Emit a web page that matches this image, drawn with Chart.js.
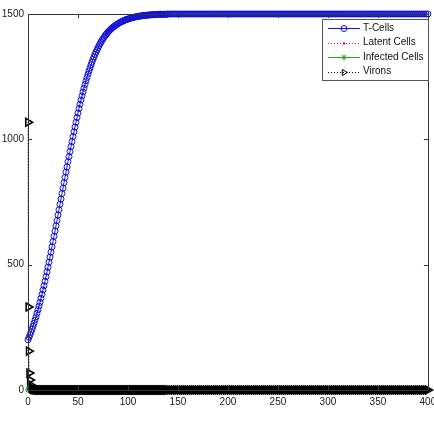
<!DOCTYPE html>
<html><head><meta charset="utf-8">
<script src="https://cdn.jsdelivr.net/npm/chart.js@4/dist/chart.umd.min.js"></script>
<style>html,body{margin:0;padding:0;background:#fff}#wrap{width:434px;height:424px}</style>
</head><body><div id="wrap"><canvas id="c" width="434" height="424"></canvas></div>
<script>
const times = [
0,1,2,3,4,5,6,7,8,9,10,11,12,13,14,15,16,17,18,19,
20,21,22,23,24,25,26,27,28,29,30,31,32,33,34,35,36,37,38,39,
40,41,42,43,44,45,46,47,48,49,50,51,52,53,54,55,56,57,58,59,
60,61,62,63,64,65,66,67,68,69,70,71,72,73,74,75,76,77,78,79,
80,81,82,83,84,85,86,87,88,89,90,91,92,93,94,95,96,97,98,99,
100,101,102,103,104,105,106,107,108,109,110,111,112,113,114,115,116,117,118,119,
120,121,122,123,124,125,126,127,128,129,130,131,132,133,134,135,136,137,138,139,
140,
142,144,146,148,150,152,154,156,158,160,162,164,166,168,170,172,174,176,178,180,
182,184,186,188,190,192,194,196,198,200,202,204,206,208,210,212,214,216,218,220,
222,224,226,228,230,232,234,236,238,240,242,244,246,248,250,252,254,256,258,260,
262,264,266,268,270,272,274,276,278,280,282,284,286,288,290,292,294,296,298,300,
302,304,306,308,310,312,314,316,318,320,322,324,326,328,330,332,334,336,338,340,
342,344,346,348,350,352,354,356,358,360,362,364,366,368,370,372,374,376,378,380,
382,384,386,388,390,392,394,396,398,400];
const tCells = [
200,210,220,231,242,254,266,279,292,306,320,335,350,366,382,399,416,434,452,471,
490,510,530,550,571,592,613,634,655,676,698,719,741,762,784,805,827,848,869,890,
911,931,951,971,991,1011,1030,1049,1068,1087,1105,1123,1140,1157,1173,1189,1204,1219,1233,1247,
1260,1273,1285,1297,1308,1319,1329,1339,1348,1357,1365,1373,1381,1388,1395,1401,1407,1413,1418,1423,
1428,1432,1436,1440,1444,1447,1450,1453,1456,1459,1461,1464,1466,1468,1470,1472,1474,1476,1477,1479,
1480,1481,1483,1484,1485,1486,1487,1488,1489,1490,1490,1491,1492,1492,1493,1493,1494,1494,1495,1495,
1496,1496,1496,1497,1497,1497,1498,1498,1498,1498,1499,1499,1499,1499,1499,1499,1499,1499,1499,1499,
1500,
1500,1500,1500,1500,1500,1500,1500,1500,1500,1500,1500,1500,1500,1500,1500,1500,1500,1500,1500,1500,
1500,1500,1500,1500,1500,1500,1500,1500,1500,1500,1500,1500,1500,1500,1500,1500,1500,1500,1500,1500,
1500,1500,1500,1500,1500,1500,1500,1500,1500,1500,1500,1500,1500,1500,1500,1500,1500,1500,1500,1500,
1500,1500,1500,1500,1500,1500,1500,1500,1500,1500,1500,1500,1500,1500,1500,1500,1500,1500,1500,1500,
1500,1500,1500,1500,1500,1500,1500,1500,1500,1500,1500,1500,1500,1500,1500,1500,1500,1500,1500,1500,
1500,1500,1500,1500,1500,1500,1500,1500,1500,1500,1500,1500,1500,1500,1500,1500,1500,1500,1500,1500,
1500,1500,1500,1500,1500,1500,1500,1500,1500,1500];
const latentCells = [
0,1,2,3,3,2,2,1,1,1,0,0,0,0,0,0,0,0,0,0,
0,0,0,0,0,0,0,0,0,0,0,0,0,0,0,0,0,0,0,0,
0,0,0,0,0,0,0,0,0,0,0,0,0,0,0,0,0,0,0,0,
0,0,0,0,0,0,0,0,0,0,0,0,0,0,0,0,0,0,0,0,
0,0,0,0,0,0,0,0,0,0,0,0,0,0,0,0,0,0,0,0,
0,0,0,0,0,0,0,0,0,0,0,0,0,0,0,0,0,0,0,0,
0,0,0,0,0,0,0,0,0,0,0,0,0,0,0,0,0,0,0,0,
0,
0,0,0,0,0,0,0,0,0,0,0,0,0,0,0,0,0,0,0,0,
0,0,0,0,0,0,0,0,0,0,0,0,0,0,0,0,0,0,0,0,
0,0,0,0,0,0,0,0,0,0,0,0,0,0,0,0,0,0,0,0,
0,0,0,0,0,0,0,0,0,0,0,0,0,0,0,0,0,0,0,0,
0,0,0,0,0,0,0,0,0,0,0,0,0,0,0,0,0,0,0,0,
0,0,0,0,0,0,0,0,0,0,0,0,0,0,0,0,0,0,0,0,
0,0,0,0,0,0,0,0,0,0];
const infectedCells = [
0,12,16,14,10,7,5,3,2,1,1,0,0,0,0,0,0,0,0,0,
0,0,0,0,0,0,0,0,0,0,0,0,0,0,0,0,0,0,0,0,
0,0,0,0,0,0,0,0,0,0,0,0,0,0,0,0,0,0,0,0,
0,0,0,0,0,0,0,0,0,0,0,0,0,0,0,0,0,0,0,0,
0,0,0,0,0,0,0,0,0,0,0,0,0,0,0,0,0,0,0,0,
0,0,0,0,0,0,0,0,0,0,0,0,0,0,0,0,0,0,0,0,
0,0,0,0,0,0,0,0,0,0,0,0,0,0,0,0,0,0,0,0,
0,
0,0,0,0,0,0,0,0,0,0,0,0,0,0,0,0,0,0,0,0,
0,0,0,0,0,0,0,0,0,0,0,0,0,0,0,0,0,0,0,0,
0,0,0,0,0,0,0,0,0,0,0,0,0,0,0,0,0,0,0,0,
0,0,0,0,0,0,0,0,0,0,0,0,0,0,0,0,0,0,0,0,
0,0,0,0,0,0,0,0,0,0,0,0,0,0,0,0,0,0,0,0,
0,0,0,0,0,0,0,0,0,0,0,0,0,0,0,0,0,0,0,0,
0,0,0,0,0,0,0,0,0,0];
const vironTimes = [
0,0.4,0.8,1.3,1.9,2.6,3.4,
4,5,6,7,8,9,10,11,12,13,14,15,16,17,18,19,
20,21,22,23,24,25,26,27,28,29,30,31,32,33,34,35,36,37,38,39,
40,41,42,43,44,45,46,47,48,49,50,51,52,53,54,55,56,57,58,59,
60,61,62,63,64,65,66,67,68,69,70,71,72,73,74,75,76,77,78,79,
80,81,82,83,84,85,86,87,88,89,90,91,92,93,94,95,96,97,98,99,
100,101,102,103,104,105,106,107,108,109,110,111,112,113,114,115,116,117,118,119,
120,121,122,123,124,125,126,127,128,129,130,131,132,133,134,135,136,137,138,139,
140,
142,144,146,148,150,152,154,156,158,160,162,164,166,168,170,172,174,176,178,180,
182,184,186,188,190,192,194,196,198,200,202,204,206,208,210,212,214,216,218,220,
222,224,226,228,230,232,234,236,238,240,242,244,246,248,250,252,254,256,258,260,
262,264,266,268,270,272,274,276,278,280,282,284,286,288,290,292,294,296,298,300,
302,304,306,308,310,312,314,316,318,320,322,324,326,328,330,332,334,336,338,340,
342,344,346,348,350,352,354,356,358,360,362,364,366,368,370,372,374,376,378,380,
382,384,386,388,390,392,394,396,398,400];
const virons = [
1068,331,155,68,40,20,9,
5,3,2,1,1,0,0,0,0,0,0,0,0,0,0,0,
0,0,0,0,0,0,0,0,0,0,0,0,0,0,0,0,0,0,0,0,
0,0,0,0,0,0,0,0,0,0,0,0,0,0,0,0,0,0,0,0,
0,0,0,0,0,0,0,0,0,0,0,0,0,0,0,0,0,0,0,0,
0,0,0,0,0,0,0,0,0,0,0,0,0,0,0,0,0,0,0,0,
0,0,0,0,0,0,0,0,0,0,0,0,0,0,0,0,0,0,0,0,
0,0,0,0,0,0,0,0,0,0,0,0,0,0,0,0,0,0,0,0,
0,
0,0,0,0,0,0,0,0,0,0,0,0,0,0,0,0,0,0,0,0,
0,0,0,0,0,0,0,0,0,0,0,0,0,0,0,0,0,0,0,0,
0,0,0,0,0,0,0,0,0,0,0,0,0,0,0,0,0,0,0,0,
0,0,0,0,0,0,0,0,0,0,0,0,0,0,0,0,0,0,0,0,
0,0,0,0,0,0,0,0,0,0,0,0,0,0,0,0,0,0,0,0,
0,0,0,0,0,0,0,0,0,0,0,0,0,0,0,0,0,0,0,0,
0,0,0,0,0,0,0,0,0,0];
const seriesNames = ['T-Cells','Latent Cells','Infected Cells','Virons'];
const xTickValues = [0,50,100,150,200,250,300,350,400];
const yTickValues = [0,500,1000,1500];

const zip = (xs, ys) => xs.map((x, i) => ({x: x, y: ys[i]}));

const datasets = [
  {label: seriesNames[0], data: zip(times, tCells), borderColor: '#1010d8', backgroundColor: 'rgba(0,0,0,0)',
   borderWidth: 1, pointStyle: 'circle', pointRadius: 3, pointBorderWidth: 1, pointBackgroundColor: 'rgba(0,0,0,0)',
   pointBorderColor: '#1010d8', order: 3, clip: false, legendBorder: 1},
  {label: seriesNames[1], data: zip(times, latentCells), borderColor: '#e8103a', backgroundColor: '#e8103a',
   borderWidth: 1, borderDash: [1, 2], pointStyle: 'circle', pointRadius: 1.3, pointBorderWidth: 0,
   pointBackgroundColor: '#e8103a', order: 2, clip: false, legendBorder: 0},
  {label: seriesNames[2], data: zip(times, infectedCells), borderColor: '#22a022', backgroundColor: '#22a022',
   borderWidth: 1, pointStyle: 'star', pointRadius: 3, pointBorderWidth: 1, pointBorderColor: '#22a022',
   pointBackgroundColor: '#22a022', order: 1, clip: false, legendBorder: 1},
  {label: seriesNames[3], data: zip(vironTimes, virons), borderColor: '#000000', backgroundColor: 'rgba(0,0,0,0)',
   borderWidth: 1, borderDash: [1, 2], pointStyle: 'triangle', pointRotation: 90, pointRadius: 4.5,
   pointBorderWidth: 1.6, pointBorderColor: '#000000', pointBackgroundColor: 'rgba(0,0,0,0)', order: 0, clip: false, legendBorder: 1}
];

const framePlugin = {
  id: 'frame',
  afterDraw(chart) {
    const ctx = chart.ctx, a = chart.chartArea;
    const xs = chart.scales.x, ys = chart.scales.y;
    ctx.save();
    ctx.strokeStyle = '#333';
    ctx.lineWidth = 1;
    ctx.beginPath();
    ctx.rect(Math.round(a.left) + 0.5, Math.round(a.top) + 0.5, Math.round(a.right - a.left), Math.round(a.bottom - a.top));
    ctx.stroke();
    ctx.beginPath();
    const tl = 4;
    xTickValues.forEach(v => {
      const px = Math.round(xs.getPixelForValue(v)) + 0.5;
      ctx.moveTo(px, a.bottom); ctx.lineTo(px, a.bottom - tl);
      ctx.moveTo(px, a.top); ctx.lineTo(px, a.top + tl);
    });
    yTickValues.forEach(v => {
      const py = Math.round(ys.getPixelForValue(v)) + 0.5;
      ctx.moveTo(a.left, py); ctx.lineTo(a.left + tl, py);
      ctx.moveTo(a.right, py); ctx.lineTo(a.right - tl, py);
    });
    ctx.stroke();

    // legend box
    const bx = 322.5, by = 19.5, bw = 106, bh = 61;
    ctx.fillStyle = '#fff';
    ctx.fillRect(bx, by, bw, bh);
    ctx.strokeStyle = '#555';
    ctx.strokeRect(bx, by, bw, bh);
    const rows = [28, 42.5, 57, 71.5];
    chart.data.datasets.forEach((ds, i) => {
      const y = rows[i];
      ctx.save();
      ctx.strokeStyle = ds.borderColor;
      ctx.lineWidth = 1;
      ctx.setLineDash(ds.borderDash || []);
      ctx.beginPath();
      ctx.moveTo(328, Math.round(y) + 0.5); ctx.lineTo(360, Math.round(y) + 0.5);
      ctx.stroke();
      ctx.setLineDash([]);
      ctx.strokeStyle = ds.pointBorderColor || ds.borderColor;
      ctx.fillStyle = ds.pointBackgroundColor;
      Chart.helpers.drawPoint(ctx, {pointStyle: ds.pointStyle, rotation: ds.pointRotation || 0,
        radius: Math.min(ds.pointRadius, 3.5), borderWidth: ds.legendBorder}, 344, Math.round(y) + 0.5);
      ctx.restore();
      ctx.fillStyle = '#111';
      ctx.font = '10px "Liberation Sans", Arial, sans-serif';
      ctx.textBaseline = 'middle';
      ctx.textAlign = 'left';
      ctx.fillText(ds.label, 363, y);
    });
    ctx.restore();
  }
};

new Chart(document.getElementById('c'), {
  type: 'line',
  data: {datasets: datasets},
  options: {
    responsive: false,
    devicePixelRatio: 1,
    animation: false,
    layout: {padding: {left: 0, top: 14, right: 5, bottom: 0}},
    plugins: {legend: {display: false}, tooltip: {enabled: false}},
    elements: {line: {tension: 0}},
    scales: {
      x: {
        type: 'linear', min: 0, max: 400,
        grid: {display: false, drawTicks: false},
        border: {display: false},
        ticks: {padding: 6, color: '#222', font: {family: '"Liberation Sans", Arial, sans-serif', size: 10},
                maxRotation: 0, autoSkip: false, callback: v => String(v)},
        afterBuildTicks: s => { s.ticks = xTickValues.map(v => ({value: v})); },
        afterFit: s => { s.height = 34; s.paddingLeft = 0; s.paddingRight = 0; }
      },
      y: {
        type: 'linear', min: 0, max: 1500,
        grid: {display: false, drawTicks: false},
        border: {display: false},
        ticks: {padding: 4, color: '#222', font: {family: '"Liberation Sans", Arial, sans-serif', size: 10},
                autoSkip: false, callback: v => String(v)},
        afterBuildTicks: s => { s.ticks = yTickValues.map(v => ({value: v})); },
        afterFit: s => { s.width = 28; s.paddingTop = 0; s.paddingBottom = 0; }
      }
    }
  },
  plugins: [framePlugin]
});
</script>
</body></html>
